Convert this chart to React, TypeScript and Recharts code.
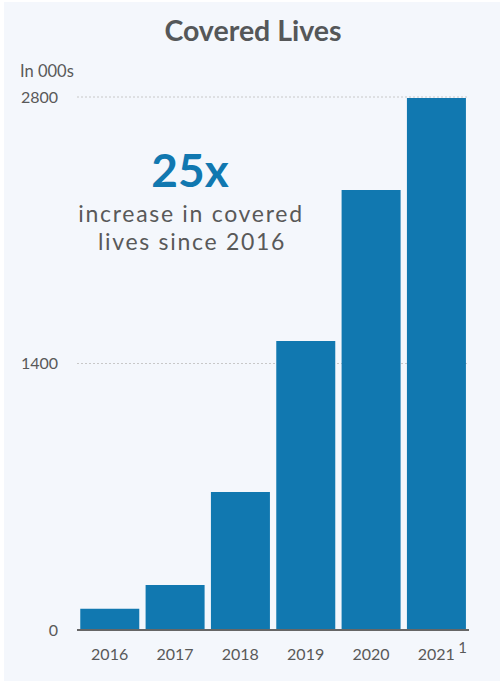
import { BarChart, Bar, XAxis, YAxis, CartesianGrid } from 'recharts';

const years = ['2016', '2017', '2018', '2019', '2020', '2021'];
const lives = [112, 236, 725, 1518, 2311, 2795];
const yTicks = [0, 1400, 2800];

const data = years.map((year, i) => ({ year, lives: lives[i] }));

const BLUE = '#1178b0';
const GREY = '#595959';
const FONT = 'Lato, "Open Sans", sans-serif';

const XTick = (props: any) => {
  const { x, y, payload } = props;
  return (
    <g>
      <text x={x} y={y} dy={20} textAnchor="middle" fill={GREY} fontSize={16} fontFamily={FONT}>
        {payload.value}
      </text>
      {payload.value === '2021' && (
        <text x={x + 22} y={y} dy={13} textAnchor="start" fill={GREY} fontSize={15} fontFamily={FONT}>
          1
        </text>
      )}
    </g>
  );
};

export default function App() {
  return (
    <div style={{ position: 'absolute', left: 0, top: 0, width: 504, height: 681, background: '#fff' }}>
      <div style={{ position: 'absolute', left: 4, top: 2, width: 496, height: 679, background: '#f4f7fc' }} />
      <div style={{ position: 'absolute', left: 0, top: 0 }}>
        <BarChart
          width={504}
          height={681}
          data={data}
          margin={{ top: 97, right: 35, bottom: 0, left: 17 }}
          barCategoryGap="5%"
        >
          <CartesianGrid horizontal vertical={false} stroke="#c8c8c8" strokeDasharray="2 2" />
          <XAxis
            dataKey="year"
            height={51}
            axisLine={{ stroke: '#666', strokeWidth: 2 }}
            tickLine={false}
            tickSize={0}
            tickMargin={10}
            tick={<XTick />}
          />
          <YAxis
            width={60}
            domain={[0, 2800]}
            ticks={yTicks}
            axisLine={false}
            tickLine={false}
            tickSize={0}
            tickMargin={19}
            tick={{ fill: GREY, fontSize: 16, fontFamily: FONT }}
          />
          <Bar dataKey="lives" fill={BLUE} isAnimationActive={false} />
          <text x={253} y={41} textAnchor="middle" fill="#555759" fontSize={28.5} fontWeight={700} fontFamily={FONT}>
            Covered Lives
          </text>
          <text x={20} y={77} fill={GREY} fontSize={16.5} fontFamily={FONT}>
            In 000s
          </text>
          <text x={190} y={187} textAnchor="middle" fill={BLUE} fontSize={46} fontWeight={700} fontFamily={FONT}>
            25x
          </text>
          <text x={191} y={222} textAnchor="middle" fill={GREY} fontSize={23} letterSpacing={1.7} fontFamily={FONT}>
            increase in covered
          </text>
          <text x={192} y={250} textAnchor="middle" fill={GREY} fontSize={23} letterSpacing={1.7} fontFamily={FONT}>
            lives since 2016
          </text>
        </BarChart>
      </div>
    </div>
  );
}
